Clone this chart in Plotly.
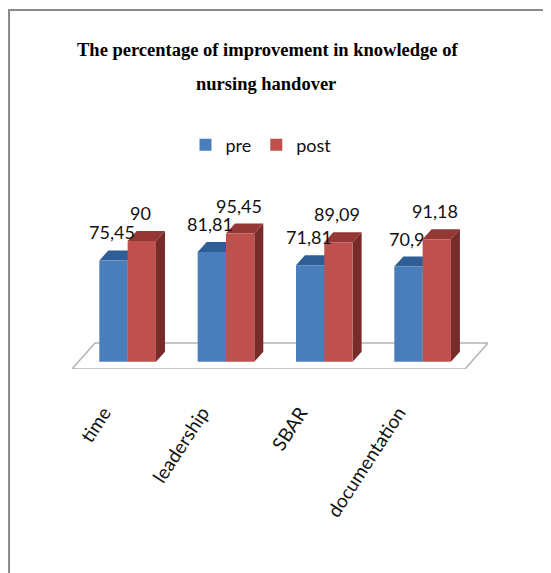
import plotly.graph_objects as go

categories = ["time", "leadership", "SBAR", "documentation"]
pre_values = [75.45, 81.81, 71.81, 70.9]
post_values = [90, 95.45, 89.09, 91.18]
series_names = ["pre", "post"]

OFF = 8  # page body margin
W, H = 551 - OFF, 573 - OFF
PLOT_L, PLOT_R, PLOT_T, PLOT_B = 72, 488, 170, 369  # window pixels
ML, MR, MT, MB = PLOT_L - OFF, W - (PLOT_R - OFF), PLOT_T - OFF, H - (PLOT_B - OFF)
PW, PH = PLOT_R - PLOT_L, PLOT_B - PLOT_T
X_RANGE = [-0.566, 3.665]
Y_RANGE = [-5.44, 142.85]

BAR_W = 0.288
DX = 9 / (PW / (X_RANGE[1] - X_RANGE[0]))
DY = 10 / (PH / (Y_RANGE[1] - Y_RANGE[0]))

front = {"pre": "#4a7ebb", "post": "#c0504d"}
top_c = {"pre": "#2f5d96", "post": "#953734"}
side_c = {"pre": "#2a5186", "post": "#772c2a"}


def px2paper_x(p):
    return (p - PLOT_L) / PW


def px2paper_y(p):
    return (PLOT_B - p) / PH


def fmt(v):
    return f"{v:g}".replace(".", ",")


fig = go.Figure()
for name, vals in zip(series_names, [pre_values, post_values]):
    fig.add_trace(go.Bar(
        x=categories, y=vals, name=name,
        marker=dict(color=front[name], line=dict(width=0)),
    ))

shapes = []
fx0, fx1 = X_RANGE[0], X_RANGE[1] - 0.234
bx0, bx1 = X_RANGE[0] + 0.234, X_RANGE[1]
fy, by = Y_RANGE[0], 13.93
shapes.append(dict(
    type="path", xref="x", yref="y", layer="below",
    path=f"M{fx0},{fy} L{fx1},{fy} L{bx1},{by} L{bx0},{by} Z",
    fillcolor="white", line=dict(color="#b4b4b4", width=1.5),
))

annotations = []
for si, (name, vals) in enumerate(zip(series_names, [pre_values, post_values])):
    for i, v in enumerate(vals):
        x0 = i - BAR_W + si * BAR_W
        x1 = x0 + BAR_W
        shapes.append(dict(
            type="path", xref="x", yref="y", layer="below",
            path=f"M{x0},{v} L{x1},{v} L{x1+DX},{v+DY} L{x0+DX},{v+DY} Z",
            fillcolor=top_c[name], line=dict(width=0),
        ))
        shapes.append(dict(
            type="path", xref="x", yref="y", layer="below",
            path=f"M{x1},0 L{x1+DX},{DY} L{x1+DX},{v+DY} L{x1},{v} Z",
            fillcolor=side_c[name], line=dict(width=0),
        ))
        annotations.append(dict(
            x=(x0 + x1) / 2, y=v, xref="x", yref="y", text=fmt(v),
            showarrow=False, yanchor="middle", yshift=28, xshift=-1.5,
            font=dict(family="Lato", size=18, color="#111111"),
        ))

shapes.append(dict(
    type="path", xref="paper", yref="paper", layer="above",
    path=(f"M{px2paper_x(OFF + 1)},{px2paper_y(H + OFF + 5)} "
          f"L{px2paper_x(OFF + 1)},{px2paper_y(10)} "
          f"L{px2paper_x(W + OFF + 5)},{px2paper_y(10)}"),
    line=dict(color="#8c8c8c", width=2.2),
))

title_lines = ["The percentage of improvement in knowledge of", "nursing handover"]
for txt, (cx, cy) in zip(title_lines, [(267, 50), (266, 84)]):
    annotations.append(dict(
        x=px2paper_x(cx), y=px2paper_y(cy), xref="paper", yref="paper",
        text=f"<b>{txt}</b>", showarrow=False, xanchor="center", yanchor="middle",
        font=dict(family="Liberation Serif", size=18.5, color="black"),
    ))

fig.update_layout(
    width=W, height=H,
    margin=dict(l=ML, r=MR, t=MT, b=MB, pad=0, autoexpand=False),
    paper_bgcolor="white", plot_bgcolor="white",
    barmode="group", bargap=0.424, bargroupgap=0,
    shapes=shapes, annotations=annotations,
    showlegend=True,
    legend=dict(
        orientation="h", xref="paper", yref="paper",
        x=px2paper_x(261), y=px2paper_y(145), xanchor="center", yanchor="middle",
        font=dict(family="Lato", size=18, color="#111111"),
        itemwidth=30, traceorder="normal",
    ),
    xaxis=dict(
        range=X_RANGE, showgrid=False, zeroline=False, showline=False, automargin=False,
        ticks="", tickangle=-57, tickfont=dict(family="Lato", size=19, color="#111111"),
        ticklabelstandoff=28, ticklabelshift=-24,
    ),
    yaxis=dict(range=Y_RANGE, visible=False, showgrid=False, zeroline=False, automargin=False),
)

fig.write_html("out.html")
